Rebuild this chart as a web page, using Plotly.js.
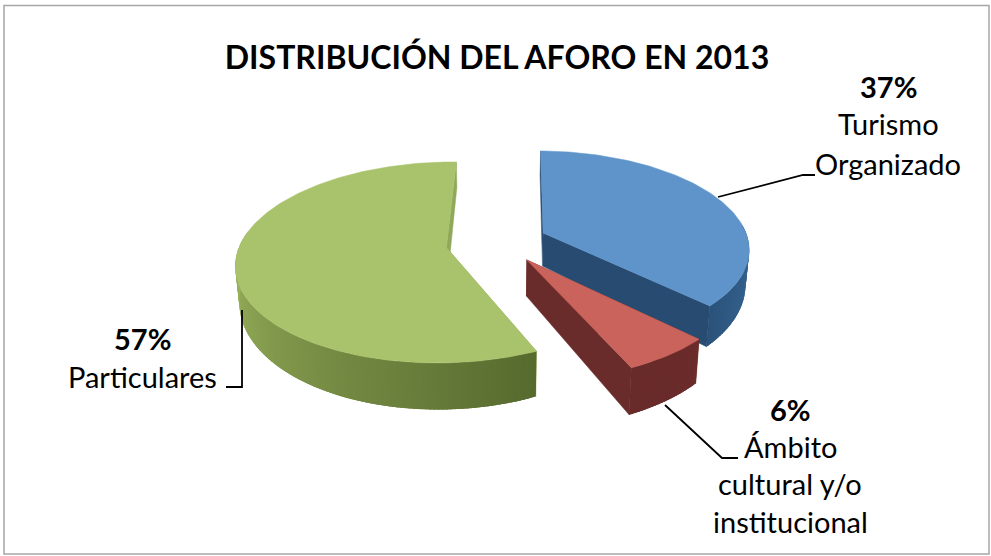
<!DOCTYPE html>
<html><head><meta charset="utf-8">
<script src="https://cdn.plot.ly/plotly-3.0.1.min.js"></script>
<style>html,body{margin:0;padding:0;background:#fff}#c{width:991px;height:556px}</style>
</head><body><div id="c"></div>
<script>
// Data
const categories = ["Turismo Organizado", "Ámbito cultural y/o institucional", "Particulares"];
const shares = [37, 6, 57];
const percentLabels = ["37%", "6%", "57%"];
const topColors = ["#5F94CA", "#C9635B", "#A9C36C"];
const sideNear = ["#264A70", "#692B2A", "#566A2E"];
const sideFar = ["#35638F", "#6E2D2C", "#9DB65F"];
const faceColors = ["#274B71", "#6A2C2B", "#8FA85A"];
const explodeBy = [0.237, 0.222, 0.26];

// Projection of the tilted, exploded pie onto the plot axes
const VIEW = {x0: 499, y0: 242, f: 1234, dist: 6, cos: 0.883, sin: 0.47, height: 0.19, rise: 0.2, turn: 1*Math.PI/180};
function project(X, Y, Z) {
  const w = VIEW.dist + Y * VIEW.cos - Z * VIEW.sin;
  const zz = Z * (1 - VIEW.rise * Y);
  return [VIEW.x0 + VIEW.f * X / w, VIEW.y0 - VIEW.f * (Y * VIEW.sin + zz * VIEW.cos) / w];
}
function hex(c){return [1,3,5].map(i=>parseInt(c.substr(i,2),16));}
function mix(a,b,t){const A=hex(a),B=hex(b);return 'rgb('+A.map((v,i)=>Math.round(v+(B[i]-v)*t)).join(',')+')';}

const traces = [];
function poly(pts, color, name, lw) {
  traces.push({type:'scatter', mode:'lines', x:pts.map(p=>p[0]), y:pts.map(p=>p[1]), fill:'toself',
    fillcolor:color, line:{color:color, width:lw}, hoverinfo:'skip', showlegend:false, name:name});
}
const total = shares.reduce((a,b)=>a+b,0);
const wedges = [];
let acc = 0;
shares.forEach((v,i)=>{ const a0=acc/total*2*Math.PI; acc+=v; const a1=acc/total*2*Math.PI; wedges.push({i,a0,a1}); });

function drawWedge(w) {
  const i=w.i, mid=(w.a0+w.a1)/2, e=explodeBy[i], ox=e*Math.sin(mid), oy=e*Math.cos(mid);
  const rim=(a,z)=>project(ox+Math.sin(a+VIEW.turn),oy+Math.cos(a+VIEW.turn),z);
  const apex=z=>project(ox,oy,z);
  const h=-VIEW.height;
  poly([apex(0),rim(w.a0,0),rim(w.a0,h),apex(h)],faceColors[i],categories[i],0.5);
  poly([apex(0),rim(w.a1,0),rim(w.a1,h),apex(h)],faceColors[i],categories[i],0.5);
  const step=1*Math.PI/180, n=Math.ceil((w.a1-w.a0)/step), dA=(w.a1-w.a0)/n;
  // strips are painted from the far end so each overlaps its neighbour with no seam
  for(let k=0;k<n;k++){
    const a=w.a0+dA*k, b=Math.min(w.a1,a+dA*2.5), m=a+dA/2;
    if(Math.cos(m)>0.12) continue;
    const deg=m*180/Math.PI;
    const t=Math.min(1,Math.max(0,i===2?(deg-155)/115:(Math.sin(m)-0.6)/0.4));
    const steps=[a,(a+b)/2,b];
    const upper=steps.map(s=>rim(s,0)), lower=steps.slice().reverse().map(s=>rim(s,h));
    poly(upper.concat(lower),mix(sideNear[i],sideFar[i],t),categories[i],0);
  }
  const top=[apex(0)];
  for(let k=0;k<=n;k++) top.push(rim(w.a0+dA*k,0));
  top.push(apex(0));
  poly(top,topColors[i],categories[i],0.5);
}
drawWedge(wedges[2]);
drawWedge(wedges[0]);
drawWedge(wedges[1]);

const FONT="Lato, Carlito, Calibri, sans-serif";
function lab(text,x,y,bold){return {text:bold?'<b>'+text+'</b>':text,x:x,y:y,xref:'x',yref:'y',showarrow:false,
  xanchor:'center',yanchor:'middle',font:{family:FONT,size:29,color:'#000'}};}
const annotations=[
  lab(percentLabels[0],888,86,true), lab("Turismo",888,123), lab("Organizado",888,163),
  lab(percentLabels[1],790,409,true), lab("Ámbito",790,446), lab("cultural y/o",790,483), lab("institucional",790,521),
  lab(percentLabels[2],142,338,true), lab("Particulares",142,376)
];
const lineStyle={color:'#000',width:1.8};
function leader(path){return {type:'path',xref:'x',yref:'y',path:path,line:lineStyle};}
const shapes=[
  {type:'rect',xref:'x',yref:'y',x0:4,y0:5.5,x1:989,y1:554,line:{color:'#A6A6A6',width:1.5},fillcolor:'rgba(0,0,0,0)'},
  leader('M718,197 L803,175 L815,175'),
  leader('M665,405 L722,458 L738,458'),
  leader('M242,310 L242,387 L226,387')
];
Plotly.newPlot('c',traces,{
  width:991,height:556,margin:{l:0,r:0,t:0,b:0},paper_bgcolor:'#fff',plot_bgcolor:'#fff',showlegend:false,
  title:{text:'<b>DISTRIBUCIÓN DEL AFORO EN 2013</b>',x:497/991,xanchor:'center',y:1-58/556,yanchor:'middle',font:{family:FONT,size:32,color:'#000'}},
  xaxis:{range:[0,991],visible:false,fixedrange:true},
  yaxis:{range:[556,0],visible:false,fixedrange:true},
  annotations:annotations,shapes:shapes
},{displayModeBar:false,staticPlot:true});
</script></body></html>
